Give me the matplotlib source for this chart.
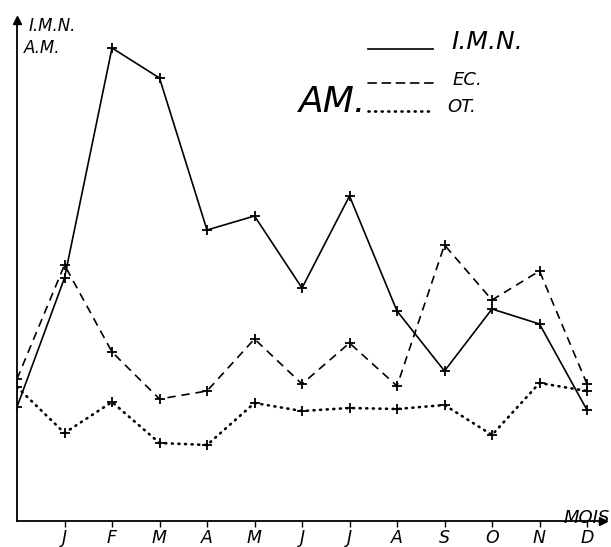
import numpy as np
import matplotlib
matplotlib.use('Agg')
import matplotlib.pyplot as plt

# months on the x axis (first point sits on the y axis)
months = ['J', 'F', 'M', 'A', 'M', 'J', 'J', 'A', 'S', 'O', 'N', 'D']

# values (arbitrary units)
imn = [11.4, 24.3, 47.3, 44.3, 29.1, 30.5, 23.3, 32.5, 21.0, 15.0, 21.2, 19.7, 11.1]
am_ec = [14.2, 25.6, 16.9, 12.2, 13.0, 18.2, 13.7, 17.8, 13.5, 27.6, 22.1, 25.0, 13.7]
am_ot = [13.4, 8.8, 11.9, 7.8, 7.6, 11.8, 11.0, 11.3, 11.2, 11.6, 8.6, 13.8, 13.0]

W, H = 611, 547
fig = plt.figure(figsize=(W / 100, H / 100), dpi=100)
fig.patch.set_facecolor('white')
ax = fig.add_axes([17 / W, 1 - 521 / H, 586 / W, 501 / H])

x = np.arange(len(imn))
ax.plot(x, imn, color='black', lw=1.2, marker='+', ms=7, mew=1.3)
ax.plot(x, am_ec, color='black', lw=1.2, ls=(0, (5, 3.5)), marker='+', ms=7, mew=1.3)
ax.plot(x, am_ot, color='black', lw=1.9, ls=(0, (0.4, 2.1)), dash_capstyle='round',
        marker='+', ms=7, mew=1.3)

ax.set_xlim(0, 586 / 47.5)
ax.set_ylim(0, 50.1)

for s in ['top', 'right']:
    ax.spines[s].set_visible(False)
for s in ['left', 'bottom']:
    ax.spines[s].set_linewidth(1.3)

# arrow heads on both axes
ax.plot(1, 0, '>k', ms=6, transform=ax.transAxes, clip_on=False)
ax.plot(0, 1, '^k', ms=6, transform=ax.transAxes, clip_on=False)

ax.set_xticks(x[1:])
ax.set_xticklabels(months, fontsize=12.5, style='italic')
ax.tick_params(axis='x', direction='out', length=4, width=1, pad=2)
ax.set_yticks([])

txt = dict(style='italic', color='black')
fig.text(610 / W, 1 - 523 / H, 'MOIS', ha='right', va='baseline', fontsize=13, **txt)
fig.text(29 / W, 1 - 31 / H, 'I.M.N.', ha='left', va='baseline', fontsize=12, **txt)
fig.text(24 / W, 1 - 53 / H, 'A.M.', ha='left', va='baseline', fontsize=12, **txt)

# hand drawn legend
for y, ls, lw in [(49, '-', 1.2), (83, (0, (5, 3.5)), 1.2), (111, (0, (0.4, 2.1)), 1.9)]:
    fig.add_artist(plt.Line2D([368 / W, 433 / W], [1 - y / H, 1 - y / H], color='black',
                              lw=lw, ls=ls, dash_capstyle='round'))
fig.text(451 / W, 1 - 49 / H, 'I.M.N.', ha='left', va='baseline', fontsize=18, **txt)
fig.text(453 / W, 1 - 85 / H, 'EC.', ha='left', va='baseline', fontsize=13, **txt)
fig.text(447 / W, 1 - 112 / H, 'OT.', ha='left', va='baseline', fontsize=13, **txt)
fig.text(299 / W, 1 - 112 / H, 'AM.', ha='left', va='baseline', fontsize=26, **txt)

fig.savefig('out.png', dpi=100)
